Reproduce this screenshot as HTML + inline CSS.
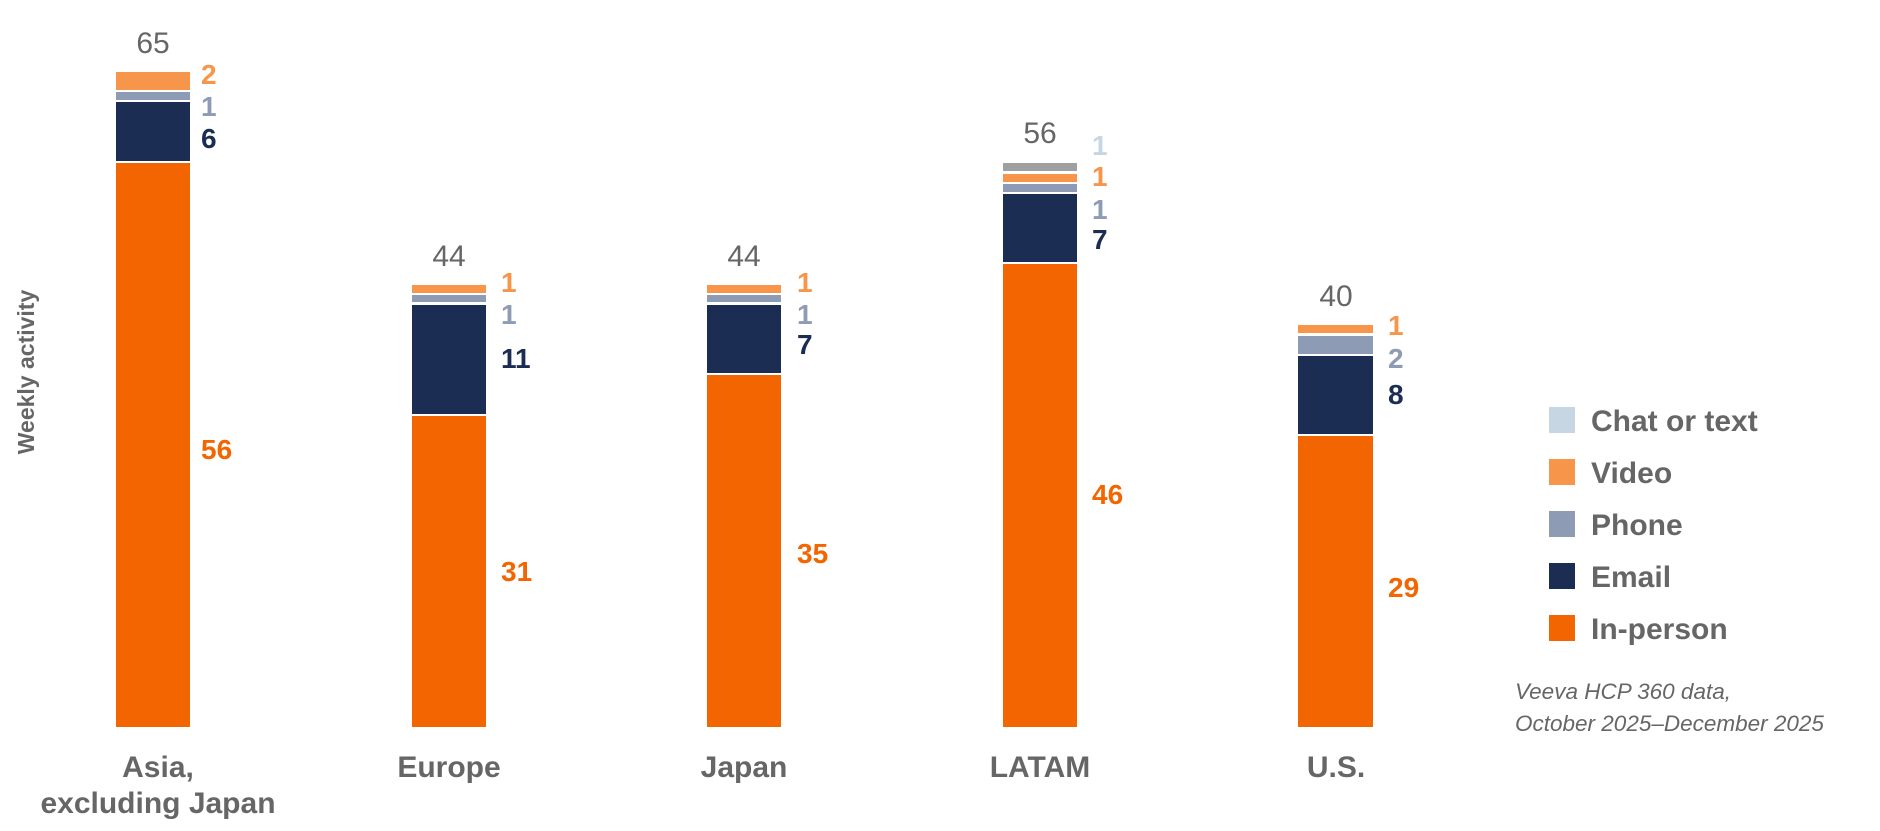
<!DOCTYPE html>
<html><head><meta charset="utf-8"><style>
html,body{margin:0;padding:0;background:#fff;}
svg{display:block;}
text{font-family:"Liberation Sans Narrow","Liberation Sans",sans-serif;}
.b{font-weight:bold;font-size:28px;}
.t{font-size:30px;fill:#666;}
.x{font-weight:bold;font-size:30px;fill:#666;text-anchor:middle;}
.l{font-weight:bold;font-size:30px;fill:#666;}
</style></head><body>
<svg width="1880" height="831" viewBox="0 0 1880 831">
<g>
<rect x="116" y="72" width="74" height="18" fill="#F7964A"/>
<rect x="116" y="92" width="74" height="8" fill="#8E9BB4"/>
<rect x="116" y="102" width="74" height="59" fill="#1B2D52"/>
<rect x="116" y="163" width="74" height="564" fill="#F26500"/>
<text class="t" x="153" y="53" text-anchor="middle">65</text>
<text class="b" x="201" y="84" fill="#F7964A">2</text>
<text class="b" x="201" y="116" fill="#8E9BB4">1</text>
<text class="b" x="201" y="148" fill="#1B2D52">6</text>
<text class="b" x="201" y="459" fill="#F26500">56</text>
<rect x="412" y="285" width="74" height="8" fill="#F7964A"/>
<rect x="412" y="295" width="74" height="7" fill="#8E9BB4"/>
<rect x="412" y="305" width="74" height="109" fill="#1B2D52"/>
<rect x="412" y="416" width="74" height="311" fill="#F26500"/>
<text class="t" x="449" y="266" text-anchor="middle">44</text>
<text class="b" x="501" y="292" fill="#F7964A">1</text>
<text class="b" x="501" y="324" fill="#8E9BB4">1</text>
<text class="b" x="501" y="368" fill="#1B2D52">11</text>
<text class="b" x="501" y="581" fill="#F26500">31</text>
<rect x="707" y="285" width="74" height="8" fill="#F7964A"/>
<rect x="707" y="295" width="74" height="7" fill="#8E9BB4"/>
<rect x="707" y="305" width="74" height="68" fill="#1B2D52"/>
<rect x="707" y="375" width="74" height="352" fill="#F26500"/>
<text class="t" x="744" y="266" text-anchor="middle">44</text>
<text class="b" x="797" y="292" fill="#F7964A">1</text>
<text class="b" x="797" y="324" fill="#8E9BB4">1</text>
<text class="b" x="797" y="354" fill="#1B2D52">7</text>
<text class="b" x="797" y="563" fill="#F26500">35</text>
<rect x="1003" y="163" width="74" height="8" fill="#A0A0A0"/>
<rect x="1003" y="174" width="74" height="8" fill="#F7964A"/>
<rect x="1003" y="184" width="74" height="8" fill="#8E9BB4"/>
<rect x="1003" y="194" width="74" height="68" fill="#1B2D52"/>
<rect x="1003" y="264" width="74" height="463" fill="#F26500"/>
<text class="t" x="1040" y="143" text-anchor="middle">56</text>
<text class="b" x="1092" y="155" fill="#C6D7E3">1</text>
<text class="b" x="1092" y="186" fill="#F7964A">1</text>
<text class="b" x="1092" y="219" fill="#8E9BB4">1</text>
<text class="b" x="1092" y="249" fill="#1B2D52">7</text>
<text class="b" x="1092" y="504" fill="#F26500">46</text>
<rect x="1298" y="325" width="75" height="8" fill="#F7964A"/>
<rect x="1298" y="336" width="75" height="18" fill="#8E9BB4"/>
<rect x="1298" y="356" width="75" height="78" fill="#1B2D52"/>
<rect x="1298" y="436" width="75" height="291" fill="#F26500"/>
<text class="t" x="1336" y="306" text-anchor="middle">40</text>
<text class="b" x="1388" y="335" fill="#F7964A">1</text>
<text class="b" x="1388" y="368" fill="#8E9BB4">2</text>
<text class="b" x="1388" y="404" fill="#1B2D52">8</text>
<text class="b" x="1388" y="597" fill="#F26500">29</text>
</g>
<text class="x" x="158" y="777">Asia,</text>
<text class="x" x="158" y="813">excluding Japan</text>
<text class="x" x="449" y="777">Europe</text>
<text class="x" x="744" y="777">Japan</text>
<text class="x" x="1040" y="777">LATAM</text>
<text class="x" x="1336" y="777">U.S.</text>
<text transform="translate(34,372) rotate(-90)" text-anchor="middle" style="font-weight:bold;font-size:23px;fill:#666">Weekly activity</text>
<rect x="1549" y="407" width="26" height="26" fill="#C6D7E3"/>
<text class="l" x="1591" y="431">Chat or text</text>
<rect x="1549" y="459" width="26" height="26" fill="#F7964A"/>
<text class="l" x="1591" y="483">Video</text>
<rect x="1549" y="511" width="26" height="26" fill="#8E9BB4"/>
<text class="l" x="1591" y="535">Phone</text>
<rect x="1549" y="563" width="26" height="26" fill="#1B2D52"/>
<text class="l" x="1591" y="587">Email</text>
<rect x="1549" y="615" width="26" height="26" fill="#F26500"/>
<text class="l" x="1591" y="639">In-person</text>
<text x="1515" y="699" style="font-style:italic;font-size:22.5px;fill:#666">Veeva HCP 360 data,</text>
<text x="1515" y="731" style="font-style:italic;font-size:22.5px;fill:#666">October 2025–December 2025</text>
</svg>
</body></html>
